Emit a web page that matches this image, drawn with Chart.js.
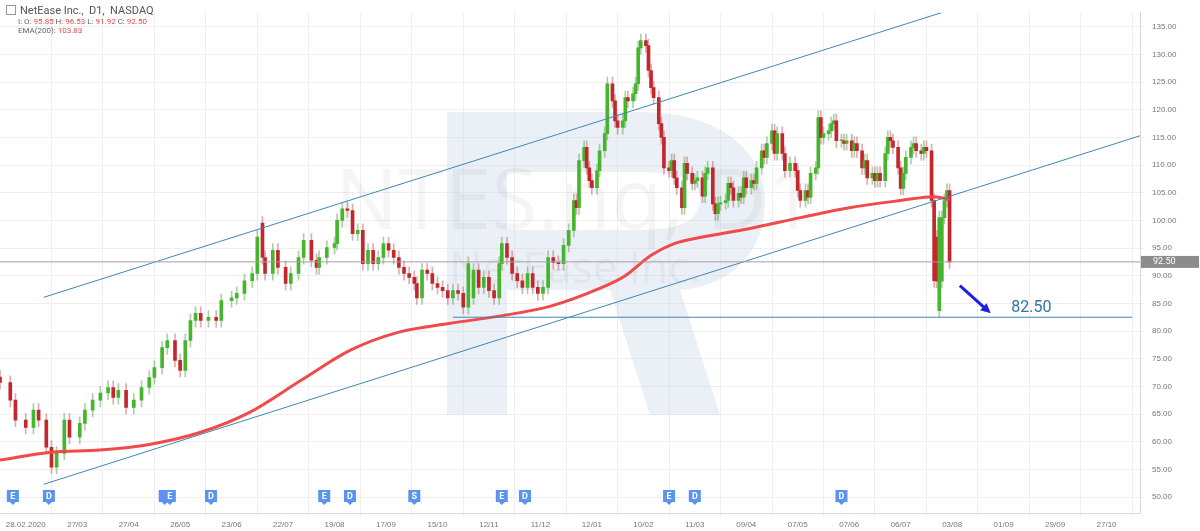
<!DOCTYPE html>
<html lang="en">
<head>
  <meta charset="UTF-8" />
  <title>NetEase Inc., D1</title>
  <script src="https://cdn.jsdelivr.net/npm/chart.js"></script>
  <style>
    body { margin: 0; background: #fff; font-family: Roboto, Arial, sans-serif; }
    .wrap { position: relative; width: 1200px; height: 531px; }
    .legend { position: absolute; left: 6px; top: 4px; font-size: 8px; color: #666; line-height: 9px; }
    .legend .t { font-size: 11px; color: #555; line-height: 13px; }
    .legend .box { display: inline-block; width: 8px; height: 8px; border: 1px solid #999; margin-right: 4px; vertical-align: -1px; }
    .legend span.v { color: #e5484d; }
    .legend .l { padding-left: 12px; }
  </style>
</head>
<body>
<div class="wrap">
  <canvas id="c" width="1200" height="531"></canvas>
  <div class="legend">
    <div class="t"><span class="box"></span>NetEase Inc.,&nbsp; D1,&nbsp; NASDAQ</div>
    <div class="l">I: O: <span class="v">95.85</span> H: <span class="v">96.53</span> L: <span class="v">91.92</span> C: <span class="v">92.50</span></div>
    <div class="l">EMA(200): <span class="v">103.83</span></div>
  </div>
</div>
<script>
// trading days since 28.02.2020 and closing prices
const days = [-10,-6,-4,0,3,5,8,10,12,15,17,21,23,26,29,32,34,36,39,42,45,48,50,53,55,58,60,62,64,66,68,71,74,76,80,82,85,88,90,92,93,96,98,101,103,106,108,111,113,114,117,120,121,123,125,127,129,131,133,135,137,139,141,143,145,147,149,151,152,154,156,158,160,162,164,166,168,170,172,174,176,178,180,182,184,185,187,189,191,193,195,197,199,201,203,205,207,209,211,213,214,215,217,218,219,220,222,223,225,226,228,229,230,232,233,234,236,237,238,239,241,242,243,244,246,247,248,250,251,252,253,255,256,257,259,260,261,263,264,265,267,268,269,270,272,273,274,275,277,278,279,280,282,283,284,286,287,288,290,291,292,294,295,297,299,300,301,303,304,305,307,308,309,310,312,313,314,315,317,318,319,321,322,323,325,326,327,329,330,331,332,334,335,336,337,339,340,341,342,344,345,346,348,349,350,352,353,354,355,356,357,358,359,360];
const closes = [70.7,67.5,63.9,62.6,65.7,63.9,59,55.4,57.9,63.9,60.8,63.3,65.7,67.5,68.8,69.8,68,69.3,66.2,67.5,69.8,71.6,73.4,77,78.3,74.7,72.9,78.3,81.9,83.2,81.9,82.5,81.9,85.5,86,86.8,89.1,90.4,97,93.3,90.4,94.6,91.5,88.6,90.4,93.3,96.4,92.8,91.5,93.3,95.1,95.8,100,102.1,101.8,97.6,98.2,92.2,94.6,92.2,93.3,95.8,94.6,93.3,91.5,90.4,89.7,88.6,86,91,90.4,88.6,87.9,87.3,86,87.3,86.8,84.3,92.2,91,87.9,89.7,87.3,86,92.2,95.8,93.3,90.4,89.1,87.9,90.4,87.9,86.8,87.9,93.3,92.4,92.2,95.5,98.2,103.6,102.3,110.8,113.2,109.5,107.2,105.9,109,112.6,115.7,124.7,121.6,118,116.8,118,122.2,121.6,122.9,124.7,131.2,132.5,131.6,127.1,124,122.2,117.5,115,109.5,109,110.8,107.7,105.9,102.3,110.3,108.5,106.7,107.2,107.7,104.4,108.5,109.5,103,101.2,103,103.2,103.6,106.7,105.9,103.6,104.9,104.2,107.7,105.9,107.2,106.7,109.5,112.6,111.4,113.9,116.2,112.1,115.7,112.1,109,110.3,109,105.4,103.6,105.4,104.2,108.5,109.5,118.6,115,115.7,116.2,117.5,118,114.4,114.4,113.9,114.4,112.6,113.9,112.6,109.5,110.8,107.7,108.5,107.2,108.5,107.2,112.1,115,114.4,113.2,109.5,105.8,108.5,111.4,113.2,113.9,112.6,112.1,113.2,112.6,103.6,89.1,89,100.5,100.5,103.6,105.4,92.5];
// session opens that gapped away from the previous close
const gaps = [[92, 99.5], [174, 86], [354, 97], [355, 83.7], [356, 89], [360, 96]];

const emaDays = [-10,10,29,48,68,87,107,126,145,165,184,204,223,233,243,252,262,281,301,320,340,353,359];
const emaVals = [56.7,58.1,58.5,59.5,61.7,65.3,71.1,76.5,79.8,81.4,82.7,84.5,87.7,90,93.7,95.8,96.9,98.5,100.5,102.3,103.6,104.3,103.8];

const tickDays = [0,20,40,60,80,100,120,140,160,180,200,220,240,260,280,300,320,340,360,380,400,420];
const tickLabels = ['28.02.2020','27/03','27/04','26/05','23/06','22/07','19/08','17/09','15/10','12/11','11/12','12/01','10/02','11/03','09/04','07/05','07/06','06/07','03/08','01/09','29/09','27/10'];

const upperChannel = [{x: 7, y: 86.1}, {x: 367, y: 139.2}];
const lowerChannel = [{x: 7, y: 52.3}, {x: 433, y: 115.3}];
const supportLevel = 82.5;
const supportFrom = 166, supportTo = 430;
const lastPrice = 92.5;
const arrowFrom = {x: 363, y: 88.2}, arrowTo = {x: 375, y: 83.2};
const events = [[-5,'E'],[9,'D'],[54,'I'],[56,'E'],[72,'D'],[116,'E'],[126,'D'],[151,'S'],[185,'E'],[194,'D'],[250,'E'],[260,'D'],[317,'D']];

const gapMap = new Map(gaps);
const bodies = [], wicks = [], bodyColors = [], wickColors = [];
closes.forEach((c, i) => {
  const o = gapMap.has(days[i]) ? gapMap.get(days[i]) : (i ? closes[i - 1] : c + 1);
  const up = c >= o;
  bodies.push({x: days[i], y: [o, c]});
  wicks.push({x: days[i], y: [Math.min(o, c) - 1.2, Math.max(o, c) + 1.2]});
  bodyColors.push(up ? '#44b52c' : '#c3272d');
  wickColors.push(up ? 'rgba(90,160,80,0.5)' : 'rgba(190,90,95,0.5)');
});

const overlay = {
  id: 'overlay',
  beforeDatasetsDraw(chart) {
    const {ctx, chartArea: a} = chart;
    ctx.save();
    ctx.beginPath(); ctx.rect(a.left, a.top, a.right - a.left, a.bottom - a.top); ctx.clip();
    // watermark logo
    ctx.fillStyle = 'rgba(205,218,232,0.4)';
    ctx.fillRect(447, 112, 60, 303);
    ctx.beginPath();
    ctx.moveTo(507, 112); ctx.lineTo(640, 112);
    ctx.bezierCurveTo(730, 112, 765, 160, 765, 200);
    ctx.bezierCurveTo(765, 250, 735, 285, 680, 290);
    ctx.lineTo(720, 415); ctx.lineTo(650, 415); ctx.lineTo(610, 290); ctx.lineTo(507, 290);
    ctx.lineTo(507, 230); ctx.lineTo(640, 230);
    ctx.bezierCurveTo(690, 230, 700, 215, 700, 200);
    ctx.bezierCurveTo(700, 185, 690, 172, 640, 172); ctx.lineTo(507, 172); ctx.closePath();
    ctx.fill();
    ctx.fillStyle = 'rgba(0,0,0,0.04)';
    ctx.font = '84px "Open Sans", sans-serif';
    ctx.textAlign = 'center'; ctx.textBaseline = 'middle';
    ctx.fillText('NTES.nq, D1', 575, 205);
    ctx.font = '44px "Open Sans", sans-serif';
    ctx.fillText('NetEase Inc.', 575, 270);
    ctx.restore();
  },
  afterDatasetsDraw(chart) {
    const {ctx, chartArea: a, scales: {x, y}} = chart;
    ctx.save();
    // last price line
    const py = y.getPixelForValue(lastPrice);
    ctx.strokeStyle = '#a99aa8'; ctx.lineWidth = 1;
    ctx.beginPath(); ctx.moveTo(a.left, py); ctx.lineTo(a.right, py); ctx.stroke();
    ctx.fillStyle = '#8c8c8c';
    ctx.fillRect(a.right + 1, py - 6, 58, 12);
    ctx.fillStyle = '#fff'; ctx.font = '9px Roboto, sans-serif';
    ctx.textBaseline = 'middle'; ctx.textAlign = 'left';
    ctx.fillText(lastPrice.toFixed(2), a.right + 13, py);
    // arrow
    const x1 = x.getPixelForValue(arrowFrom.x), y1 = y.getPixelForValue(arrowFrom.y);
    const x2 = x.getPixelForValue(arrowTo.x), y2 = y.getPixelForValue(arrowTo.y);
    const ang = Math.atan2(y2 - y1, x2 - x1);
    ctx.strokeStyle = '#1e1ee6'; ctx.fillStyle = '#1e1ee6'; ctx.lineWidth = 3;
    ctx.beginPath(); ctx.moveTo(x1, y1); ctx.lineTo(x2 - 6 * Math.cos(ang), y2 - 6 * Math.sin(ang)); ctx.stroke();
    ctx.beginPath(); ctx.moveTo(x2, y2);
    ctx.lineTo(x2 - 11 * Math.cos(ang - 0.45), y2 - 11 * Math.sin(ang - 0.45));
    ctx.lineTo(x2 - 11 * Math.cos(ang + 0.45), y2 - 11 * Math.sin(ang + 0.45));
    ctx.closePath(); ctx.fill();
    // level label
    ctx.fillStyle = '#2f74a0'; ctx.font = '16px Roboto, sans-serif';
    ctx.textAlign = 'left'; ctx.textBaseline = 'alphabetic';
    ctx.fillText(supportLevel.toFixed(2), x.getPixelForValue(383), y.getPixelForValue(supportLevel) - 5);
    // event markers
    ctx.font = 'bold 9px Roboto, sans-serif'; ctx.textAlign = 'center'; ctx.textBaseline = 'middle';
    events.forEach(([d, t]) => {
      const ex = x.getPixelForValue(d), ey = a.bottom - 17;
      ctx.fillStyle = '#5b93ee';
      ctx.fillRect(ex - 6, ey - 6, 12, 12);
      ctx.beginPath(); ctx.moveTo(ex - 3, ey + 6); ctx.lineTo(ex + 3, ey + 6); ctx.lineTo(ex, ey + 9); ctx.fill();
      ctx.fillStyle = '#fff'; ctx.fillText(t, ex, ey + 0.5);
    });
    ctx.restore();
  }
};

const lineStyle = {type: 'line', pointRadius: 0, borderWidth: 1, borderColor: '#3f87b5', fill: false, order: 0};

new Chart(document.getElementById('c'), {
  type: 'bar',
  data: {
    datasets: [
      {data: wicks, backgroundColor: wickColors, barThickness: 1, grouped: false, order: 3},
      {data: bodies, backgroundColor: bodyColors, barThickness: 3, minBarLength: 1, grouped: false, order: 2},
      {type: 'line', data: emaDays.map((d, i) => ({x: d, y: emaVals[i]})), borderColor: '#ef4b4b', borderWidth: 3, pointRadius: 0, cubicInterpolationMode: 'monotone', order: 1},
      {...lineStyle, data: upperChannel},
      {...lineStyle, data: lowerChannel},
      {...lineStyle, data: [{x: supportFrom, y: supportLevel}, {x: supportTo, y: supportLevel}]}
    ]
  },
  options: {
    responsive: false,
    animation: false,
    plugins: {legend: {display: false}, tooltip: {enabled: false}},
    scales: {
      x: {
        type: 'linear', min: -10, max: 433, offset: false,
        afterBuildTicks: s => { s.ticks = tickDays.map(v => ({value: v})); },
        afterFit: s => { s.height = 18; },
        ticks: {callback: (v) => tickLabels[tickDays.indexOf(v)], color: '#777', font: {size: 8}, maxRotation: 0, autoSkip: false, padding: 3},
        grid: {color: '#efefef', drawTicks: true, tickLength: 4},
        border: {color: '#d8d8d8'}
      },
      y: {
        position: 'right', min: 47.11, max: 137.53,
        afterBuildTicks: s => { const t = []; for (let v = 50; v <= 135; v += 5) t.push({value: v}); s.ticks = t; },
        afterFit: s => { s.width = 60; },
        ticks: {callback: v => v.toFixed(2), color: '#777', font: {size: 8}, padding: 8},
        grid: {color: '#efefef', tickLength: 4},
        border: {color: '#d8d8d8'}
      }
    }
  },
  plugins: [overlay]
});
</script>
</body>
</html>
